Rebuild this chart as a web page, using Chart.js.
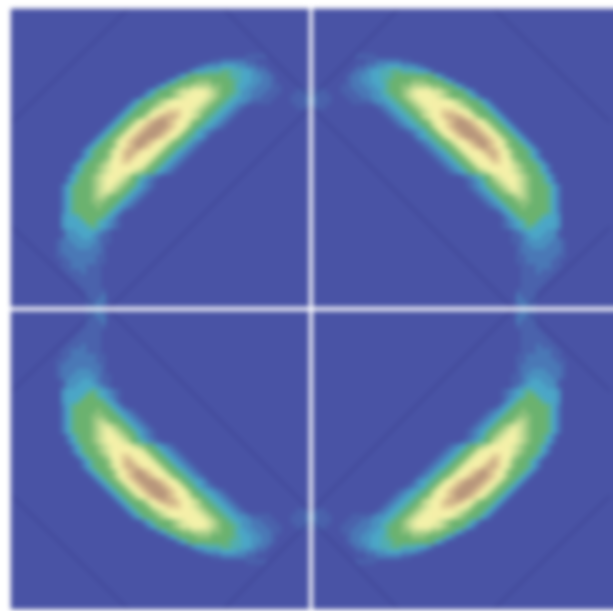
<!DOCTYPE html>
<html><head><meta charset="utf-8">
<style>
html,body{margin:0;padding:0;background:#fff;width:613px;height:611px;overflow:hidden}
#wrap{position:absolute;left:0;top:0;width:660px;height:660px}
canvas{filter:blur(2.7px)}
</style>
<script src="https://cdn.jsdelivr.net/npm/chart.js@4"></script>
</head><body><div id="wrap"><canvas id="c" width="660" height="660"></canvas></div>
<script>
// density level (hex, 0-f) per cell in one panel: [row, first column, levels]
const densityRows = [
[9,47,"1111"],
[10,40,"112222211"],
[11,37,"12333444332211"],
[12,35,"13445556655443221"],
[13,33,"24677777776554433221"],
[14,31,"2467778887777654433221"],
[15,29,"2467788999988776443322211"],
[16,27,"246778 9aabbba98776533222111".replace(' ','')],
[17,26,"24677789abbbba9876543322111"],
[18,24,"2467789abbccbba9876543321111"],
[19,23,"2467789abbcccba987654321"],
[20,22,"246778abcdddcba987654321"],
[21,21,"246778abdeeedcba97654321"],
[22,20,"24678abdeffedcba87654321"],
[23,19,"24678abdefffedcb97654321"],
[24,18,"24678abdefffedcb9764321"],
[25,17,"24678acdefffedcb9765431"],
[26,16,"24678acdeffedcba8765321"],
[27,15,"246778acdefedcba8765321"],
[28,14,"246778abdeedccba8764321"],
[29,14,"246778abdedccba8764321"],
[30,13,"2467789bcddccba8764321"],
[31,12,"2467789abcccbba8764321"],
[32,12,"2467789abccba98764321"],
[33,11,"2467789abcba9765321"],
[34,11,"2467789abba9875321"],
[35,10,"24677789aba98764321"],
[36,10,"24677789aa98764321"],
[37,10,"246777899877 64321".replace(' ','')],
[38,10,"2467778887764321"],
[39,10,"246777787764321"],
[40,10,"2467777776431"],
[41,10,"344577776431"],
[42,10,"34445775 4321".replace(' ','')],
[43,10,"344445654321"],
[44,10,"1334444321"],
[45,10,"1333443211"],
[46,9,"12233333211"],
[47,9,"1222333221"],
[48,9,"1222222221"],
[49,9,"1122222211"],
[50,10,"112222211"],
[51,10,"11222111"],
[52,11,"1112111"],
[53,12,"111111"],
[54,13,"11111"],
[55,14,"1111"],
[56,15,"1111"],
[57,15,"1112"],
[58,15,"1122"],
[59,15,"1221"],
[16,57,"111"],
[17,56,"1112"],
[18,56,"1112"],
[19,57,"111"]
];
const levelColors = ["#4953A5","#4A62AC","#4A78B6","#4A90BF","#4BA6C7","#52AEB0","#5FB18A","#6BB26F","#8CC07C","#B5D48F","#D8E59E","#F3F1A9","#F5EFA8","#E2CF96","#CDB088","#B8967B"];
const panelSigns = [[-1,1],[1,1],[-1,-1],[1,-1]];
// faint chords of one panel, in cell units from the centre cross
const chords = [
[[-59.8,37.4],[-36.8,59.8]],
[[-17.2,59.8],[-0.2,42.4]],
[[-0.2,40.2],[-40.5,0]],
[[-59.8,16.4],[-43.2,0.4]]
];
const CELLS = 60, EXTRA = 12, UNIT = 5, RADIUS = 3.8;

const grid = Array.from({length:CELLS},()=>new Array(CELLS).fill(0));
densityRows.forEach(([r,c,s])=>{
  [...s].forEach((ch,k)=>{ if(c+k<CELLS) grid[r][c+k]=parseInt(ch,16); });
});

const datasets=[];
panelSigns.forEach(([sx,sy])=>{
  const pts=[],cols=[];
  for(let level=0;level<levelColors.length;level++){
    for(let j=0;j<CELLS;j++){
      const maxOut = sx>0?EXTRA:0;
      for(let i=-maxOut;i<CELLS;i++){
        const v = i<0?0:grid[j][i];
        if(v!==level) continue;
        pts.push({x:sx*(CELLS-0.5-i),y:sy*(CELLS-0.5-j)});
        cols.push(levelColors[v]);
      }
    }
  }
  datasets.push({type:'scatter',data:pts,pointStyle:'rect',pointRadius:RADIUS,pointHoverRadius:RADIUS,borderWidth:0,pointBorderWidth:0,backgroundColor:cols,pointBackgroundColor:cols,order:3});
});
panelSigns.forEach(([sx,sy])=>{
  chords.forEach(ch=>{
    datasets.push({type:'scatter',showLine:true,data:ch.map(([x,y])=>({x:sx*x,y:sy*y})),borderColor:'rgba(50,50,130,0.5)',borderWidth:1.5,pointRadius:0,order:2});
  });
});
// white cross between panels
datasets.push({type:'scatter',showLine:true,data:[{x:0,y:-70},{x:0,y:70}],borderColor:'#ffffff',borderWidth:3.8,pointRadius:0,order:1});
datasets.push({type:'scatter',showLine:true,data:[{x:-70,y:0},{x:80,y:0}],borderColor:'#ffffff',borderWidth:3.8,pointRadius:0,order:1});

new Chart(document.getElementById('c'),{
  type:'scatter',
  data:{datasets},
  options:{
    responsive:false,animation:false,events:[],
    layout:{padding:0},
    plugins:{legend:{display:false},tooltip:{enabled:false}},
    scales:{
      x:{type:'linear',display:false,min:(RADIUS-311)/UNIT,max:(660-RADIUS-311)/UNIT},
      y:{type:'linear',display:false,min:(309-660+RADIUS)/UNIT,max:(309-RADIUS)/UNIT}
    }
  }
});
</script></body></html>
